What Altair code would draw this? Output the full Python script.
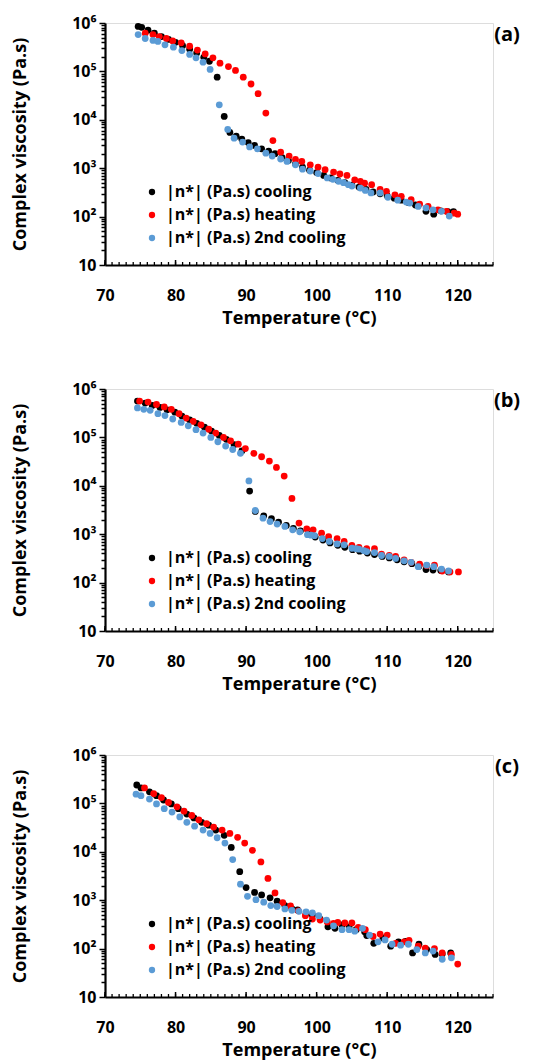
import altair as alt
import pandas as pd

FONT = "Open Sans"
SER = ["|n*| (Pa.s) cooling", "|n*| (Pa.s) heating", "|n*| (Pa.s) 2nd cooling"]
COLORS = ["#000000", "#FF0000", "#5B9BD5"]

X_LABELS = [70, 80, 90, 100, 110, 120]
X_MINOR = list(range(70, 126))
X_MAJOR = [70, 80, 90, 100, 110, 120]
Y_TICKS = [m * 10 ** k for k in range(1, 6) for m in range(1, 10)] + [1000000]

# ---- panel (a): temperature (°C) and log10 of complex viscosity
a_cool_T = [74.7, 75.2, 76.1, 77.0, 78.0, 79.0, 80.0, 81.0, 82.0, 83.0, 84.0, 84.8, 85.9, 86.9, 87.7, 88.6, 89.4, 90.3, 91.2, 92.2, 93.2, 94.1, 95.1, 96.0, 97.0, 98.0, 99.0, 100.0, 101.0, 102.0, 103.0, 104.0, 105.0, 106.0, 107.0, 108.0, 109.0, 110.0, 111.0, 112.0, 113.0, 114.0, 115.5, 116.6, 117.6, 118.6, 119.4]
a_cool_lg = [5.93, 5.91, 5.85, 5.79, 5.72, 5.66, 5.60, 5.53, 5.46, 5.38, 5.29, 5.21, 4.88, 4.07, 3.74, 3.66, 3.60, 3.53, 3.47, 3.40, 3.35, 3.30, 3.22, 3.16, 3.09, 3.02, 2.96, 2.91, 2.85, 2.80, 2.75, 2.70, 2.65, 2.61, 2.56, 2.51, 2.47, 2.43, 2.38, 2.34, 2.29, 2.24, 2.11, 2.05, 2.12, 2.10, 2.10]
a_heat_T = [75.7, 76.8, 77.7, 78.7, 79.6, 80.8, 82.0, 83.1, 84.2, 85.3, 86.3, 87.5, 88.5, 89.6, 90.7, 91.7, 92.8, 93.8, 94.9, 96.1, 97.0, 97.9, 99.1, 100.2, 101.2, 102.4, 103.3, 104.3, 105.4, 106.2, 106.8, 107.8, 109.0, 109.9, 111.1, 112.0, 113.4, 114.6, 115.8, 117.2, 118.4, 119.5, 120.0]
a_heat_lg = [5.79, 5.76, 5.72, 5.68, 5.63, 5.59, 5.52, 5.44, 5.36, 5.28, 5.17, 5.10, 5.02, 4.88, 4.74, 4.54, 4.14, 3.57, 3.33, 3.25, 3.18, 3.14, 3.07, 3.02, 2.97, 2.92, 2.88, 2.85, 2.76, 2.73, 2.69, 2.66, 2.56, 2.52, 2.45, 2.42, 2.35, 2.26, 2.21, 2.14, 2.11, 2.07, 2.05]
a_cool2_T = [74.7, 75.7, 76.8, 77.5, 78.5, 79.7, 80.9, 82.0, 82.9, 83.9, 84.9, 86.2, 87.4, 88.3, 89.5, 90.5, 91.6, 92.8, 93.7, 94.9, 95.8, 97.0, 98.0, 99.1, 100.2, 101.5, 102.3, 103.1, 103.8, 104.5, 105.0, 106.2, 106.9, 107.7, 109.0, 110.1, 111.5, 112.7, 113.2, 114.4, 115.5, 116.5, 117.7, 118.8]
a_cool2_lg = [5.76, 5.68, 5.64, 5.62, 5.55, 5.50, 5.43, 5.35, 5.28, 5.19, 5.04, 4.31, 3.80, 3.62, 3.54, 3.44, 3.40, 3.31, 3.25, 3.19, 3.14, 3.07, 2.98, 2.94, 2.89, 2.80, 2.77, 2.73, 2.70, 2.66, 2.63, 2.59, 2.54, 2.49, 2.49, 2.40, 2.34, 2.30, 2.28, 2.21, 2.18, 2.14, 2.11, 2.01]

# ---- panel (b)
b_cool_T = [74.6, 75.7, 76.7, 77.8, 78.8, 79.9, 80.9, 82.0, 83.0, 84.1, 85.1, 86.2, 87.2, 88.3, 89.4, 90.5, 91.3, 92.5, 93.6, 94.6, 95.7, 96.7, 97.7, 98.8, 99.8, 100.9, 101.9, 103.0, 104.0, 105.1, 106.1, 107.2, 108.2, 109.3, 110.3, 111.4, 112.4, 113.5, 114.5, 115.5, 116.5, 117.6, 118.7]
b_cool_lg = [5.75, 5.71, 5.66, 5.62, 5.57, 5.52, 5.44, 5.36, 5.29, 5.21, 5.13, 5.04, 4.96, 4.85, 4.72, 3.89, 3.47, 3.38, 3.32, 3.25, 3.18, 3.12, 3.07, 3.00, 2.94, 2.88, 2.82, 2.77, 2.73, 2.68, 2.65, 2.61, 2.58, 2.54, 2.51, 2.47, 2.43, 2.39, 2.34, 2.27, 2.26, 2.25, 2.22]
b_heat_T = [74.9, 76.1, 77.3, 78.4, 79.4, 80.5, 81.5, 82.5, 83.6, 84.7, 85.7, 86.8, 87.8, 88.9, 89.9, 91.1, 92.2, 93.3, 94.3, 95.4, 96.5, 97.5, 98.6, 99.5, 100.7, 101.7, 102.9, 103.9, 105.0, 106.0, 107.1, 108.2, 109.2, 110.3, 111.2, 112.4, 113.4, 114.6, 115.6, 116.7, 117.8, 118.9, 120.1]
b_heat_lg = [5.75, 5.73, 5.68, 5.63, 5.58, 5.49, 5.40, 5.33, 5.26, 5.17, 5.09, 5.00, 4.93, 4.86, 4.77, 4.67, 4.60, 4.51, 4.38, 4.20, 3.74, 3.23, 3.11, 3.09, 3.02, 2.95, 2.91, 2.85, 2.77, 2.73, 2.70, 2.70, 2.59, 2.56, 2.54, 2.47, 2.42, 2.38, 2.35, 2.36, 2.24, 2.22, 2.22]
b_cool2_T = [74.6, 75.5, 76.4, 77.5, 78.5, 79.6, 80.8, 81.8, 82.9, 83.9, 85.0, 86.0, 87.1, 88.1, 89.2, 90.4, 91.3, 92.4, 93.4, 94.4, 95.5, 96.6, 97.6, 98.7, 99.2, 99.7, 100.8, 101.8, 102.9, 103.9, 105.0, 105.6, 106.0, 106.7, 107.1, 108.2, 109.2, 110.3, 111.2, 112.4, 113.4, 114.4, 115.6, 116.6, 117.7, 118.7]
b_cool2_lg = [5.61, 5.58, 5.56, 5.49, 5.45, 5.38, 5.31, 5.24, 5.16, 5.09, 5.00, 4.91, 4.82, 4.75, 4.67, 4.10, 3.49, 3.33, 3.26, 3.21, 3.16, 3.09, 3.05, 2.99, 2.98, 2.97, 2.91, 2.85, 2.80, 2.78, 2.71, 2.70, 2.69, 2.66, 2.64, 2.62, 2.56, 2.54, 2.50, 2.45, 2.42, 2.33, 2.36, 2.33, 2.28, 2.24]

# ---- panel (c)
c_cool_T = [74.5, 75.1, 76.3, 77.3, 78.3, 79.4, 80.4, 81.6, 82.6, 83.7, 84.7, 85.7, 86.9, 87.9, 89.1, 90.0, 91.2, 92.2, 93.4, 94.4, 95.5, 96.5, 97.3, 98.5, 99.4, 100.5, 101.6, 102.6, 103.6, 104.6, 105.6, 106.8, 107.1, 108.1, 109.4, 110.5, 111.6, 112.6, 113.6, 114.5, 115.6, 116.8, 117.8, 119.0]
c_cool_lg = [5.38, 5.32, 5.24, 5.16, 5.07, 4.99, 4.89, 4.78, 4.70, 4.61, 4.55, 4.45, 4.34, 4.09, 3.59, 3.26, 3.16, 3.11, 3.05, 2.98, 2.89, 2.82, 2.80, 2.72, 2.69, 2.61, 2.45, 2.42, 2.49, 2.45, 2.39, 2.35, 2.27, 2.11, 2.22, 2.05, 2.14, 2.15, 1.91, 2.09, 1.98, 1.88, 1.89, 1.91]
c_heat_T = [75.6, 76.9, 78.0, 79.0, 80.2, 81.2, 82.3, 83.3, 84.4, 85.4, 86.6, 87.7, 88.8, 89.8, 90.9, 92.1, 93.1, 94.1, 95.2, 96.3, 97.4, 98.4, 99.4, 100.5, 101.5, 102.4, 103.0, 104.0, 105.0, 105.9, 106.9, 108.0, 109.0, 110.0, 111.2, 112.4, 113.1, 114.4, 115.4, 116.7, 117.8, 119.1, 120.0]
c_heat_lg = [5.32, 5.20, 5.12, 5.02, 4.93, 4.84, 4.75, 4.66, 4.58, 4.51, 4.45, 4.38, 4.30, 4.18, 4.03, 3.79, 3.45, 3.15, 2.95, 2.88, 2.78, 2.68, 2.61, 2.59, 2.55, 2.52, 2.54, 2.53, 2.53, 2.44, 2.39, 2.25, 2.30, 2.28, 2.11, 2.14, 2.17, 2.05, 2.01, 2.00, 1.91, 1.88, 1.68]
c_cool2_T = [74.4, 75.1, 76.3, 77.3, 78.4, 79.5, 80.6, 81.6, 82.7, 83.9, 84.9, 85.9, 87.0, 88.1, 89.2, 90.2, 91.4, 92.5, 93.5, 94.4, 95.5, 96.5, 97.5, 98.5, 99.4, 100.3, 101.4, 102.4, 103.6, 104.6, 105.4, 106.5, 107.5, 108.7, 109.7, 110.7, 111.9, 113.0, 114.2, 115.4, 116.5, 117.8, 119.1]
c_cool2_lg = [5.19, 5.16, 5.09, 4.99, 4.89, 4.82, 4.72, 4.61, 4.53, 4.45, 4.38, 4.29, 4.18, 3.84, 3.33, 3.08, 3.01, 2.96, 2.89, 2.87, 2.82, 2.79, 2.77, 2.76, 2.74, 2.68, 2.59, 2.47, 2.39, 2.39, 2.36, 2.42, 2.28, 2.14, 2.18, 2.09, 2.07, 2.09, 1.98, 1.91, 1.95, 1.78, 1.81]

W, H = 388, 242

Y_LABEL_EXPR = (
    "datum.value == 10 ? '10' : datum.value == 100 ? '10²' : datum.value == 1000 ? '10³' : "
    "datum.value == 10000 ? '10⁴' : datum.value == 100000 ? '10⁵' : datum.value == 1000000 ? '10⁶' : ''"
)
DECADE_TEST = "indexof([10,100,1000,10000,100000,1000000], datum.value) >= 0"

X_AXIS = alt.Axis(values=X_LABELS, tickSize=0, labelPadding=22, grid=False,
                  domainColor="black", domainWidth=2.2,
                  labelFont=FONT, labelFontSize=16, labelFontWeight="bold", labelColor="black",
                  labelFlush=False, labelOverlap=False,
                  titleFont=FONT, titleFontSize=18, titleFontWeight="bold", titleColor="black",
                  titlePadding=6)
Y_AXIS = alt.Axis(values=Y_TICKS, labelExpr=Y_LABEL_EXPR, grid=False,
                  tickSize={"condition": {"test": DECADE_TEST, "value": 6}, "value": 4},
                  tickColor="black", tickWidth=1.5,
                  domainColor="black", domainWidth=2.2, labelPadding=3,
                  labelFont=FONT, labelFontSize=16, labelFontWeight="bold", labelColor="black",
                  labelOverlap=False, labelFlush=False,
                  titleFont=FONT, titleFontSize=18, titleFontWeight="bold", titleColor="black",
                  titlePadding=42)
X_TITLE = "Temperature (°C)"


def panel(Ts, lgs, tag):
    rows = []
    for s, T, lg in zip(SER, Ts, lgs):
        for t, v in zip(T, lg):
            rows.append({"T": t, "eta": 10 ** v, "series": s})
    df = pd.DataFrame(rows)
    xscale = alt.Scale(domain=[70, 125], nice=False, zero=False)
    pts = alt.Chart(df).mark_circle(size=46, opacity=1).encode(
        x=alt.X("T:Q", scale=xscale, title=X_TITLE, axis=X_AXIS),
        y=alt.Y("eta:Q", scale=alt.Scale(type="log", domain=[10, 1000000], nice=False),
                title="Complex viscosity (Pa.s)", axis=Y_AXIS),
        color=alt.Color("series:N", sort=SER, scale=alt.Scale(domain=SER, range=COLORS),
                        legend=alt.Legend(title=None, orient="none", legendX=39, legendY=161,
                                          labelFont=FONT, labelFontSize=16, labelFontWeight="bold",
                                          labelColor="black", labelLimit=0, symbolType="circle",
                                          symbolSize=40, symbolStrokeWidth=0, rowPadding=7,
                                          labelOffset=6, padding=0)),
    )
    minor = alt.Chart(pd.DataFrame({"T": X_MINOR})).mark_rule(color="black", strokeWidth=1.3).encode(
        x=alt.X("T:Q", scale=xscale, title=X_TITLE, axis=X_AXIS), y=alt.value(H), y2=alt.value(H - 3))
    major = alt.Chart(pd.DataFrame({"T": X_MAJOR})).mark_rule(color="black", strokeWidth=1.5).encode(
        x=alt.X("T:Q", scale=xscale, title=X_TITLE, axis=X_AXIS), y=alt.value(H), y2=alt.value(H - 5))
    lab = alt.Chart(pd.DataFrame({"t": [tag]})).mark_text(
        font=FONT, fontSize=20, fontWeight="bold", color="black", align="center", baseline="middle"
    ).encode(text="t:N", x=alt.value(W + 14), y=alt.value(12))
    return alt.layer(pts, minor, major, lab).properties(width=W, height=H)


pa = panel([a_cool_T, a_heat_T, a_cool2_T], [a_cool_lg, a_heat_lg, a_cool2_lg], "(a)")
pb = panel([b_cool_T, b_heat_T, b_cool2_T], [b_cool_lg, b_heat_lg, b_cool2_lg], "(b)")
pc = panel([c_cool_T, c_heat_T, c_cool2_T], [c_cool_lg, c_heat_lg, c_cool2_lg], "(c)")

chart = alt.vconcat(pa, pb, pc, spacing=52).resolve_legend(color="independent").properties(
    padding={"left": 3, "top": 6, "right": 0, "bottom": 0}
).configure_view(stroke=None).configure(font=FONT, background="white")

chart.save("out.html", embed_options={"renderer": "svg", "actions": False})
